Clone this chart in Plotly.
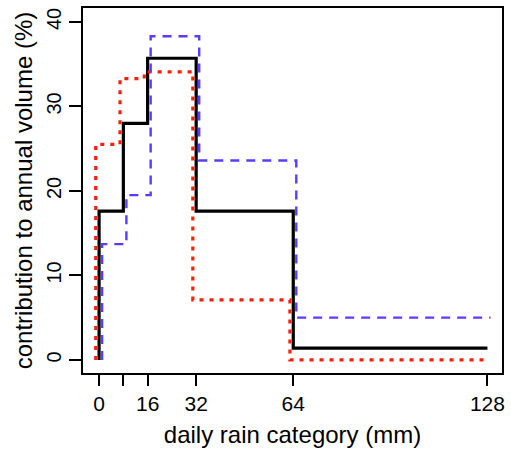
import plotly.graph_objects as go

# Daily rain categories (bin edges, mm) and contribution of each bin to annual volume (%)
bin_edges = [0, 8, 16, 32, 64, 128]
series_black = [17.6, 28.0, 35.7, 17.6, 1.4]
series_red = [25.5, 33.3, 34.1, 7.1, 0.0]
series_blue = [13.7, 19.5, 38.3, 23.6, 5.0]

x_tick_vals = [0, 8, 16, 32, 64, 128]
x_tick_text = ["0", "", "16", "32", "64", "128"]
y_tick_vals = [0, 10, 20, 30, 40]


def step_xy(edges, values, shift):
    # start at zero on the first edge, step up/down at each edge, hold to the last edge
    xs = [edges[0] + shift] + [e + shift for e in edges]
    ys = [0] + list(values) + [values[-1]]
    return xs, ys


fig = go.Figure()

styles = [
    (series_black, 0.0, dict(color="black", width=3.2, dash="solid")),
    (series_red, -1.1, dict(color="#ff1e0a", width=3.2, dash="4px,6px")),
    (series_blue, 1.0, dict(color="#5a3cff", width=2.4, dash="9px,7px")),
]
for vals, shift, line in styles:
    xs, ys = step_xy(bin_edges, vals, shift)
    fig.add_trace(go.Scatter(x=xs, y=ys, mode="lines", line_shape="hv",
                             line=line, showlegend=False, hoverinfo="skip"))

family = "Liberation Sans, Arial, sans-serif"
x_tick_font = dict(family=family, size=21, color="black")
y_tick_font = dict(family=family, size=20, color="black")
title_font = dict(family=family, size=24, color="black")

fig.update_layout(
    width=511, height=456,
    margin=dict(l=83, r=8, t=6, b=83),
    paper_bgcolor="white", plot_bgcolor="white",
    font=y_tick_font,
    xaxis=dict(
        range=[-5.3, 132.8], tickvals=x_tick_vals, ticktext=x_tick_text,
        tickfont=x_tick_font,
        ticks="outside", ticklen=11, tickwidth=1.8, tickcolor="black",
        showline=True, linecolor="black", linewidth=1.8, mirror=True,
        showgrid=False, zeroline=False,
        title=dict(text="daily rain category (mm)", font=title_font, standoff=12),
    ),
    yaxis=dict(
        range=[-1.55, 41.65], tickvals=y_tick_vals, tickangle=-90,
        tickfont=y_tick_font,
        ticks="outside", ticklen=12, tickwidth=1.8, tickcolor="black",
        showline=True, linecolor="black", linewidth=1.8, mirror=True,
        showgrid=False, zeroline=False,
        title=dict(text="contribution to annual volume (%)", font=title_font, standoff=4),
    ),
)

fig.write_html("out.html")
